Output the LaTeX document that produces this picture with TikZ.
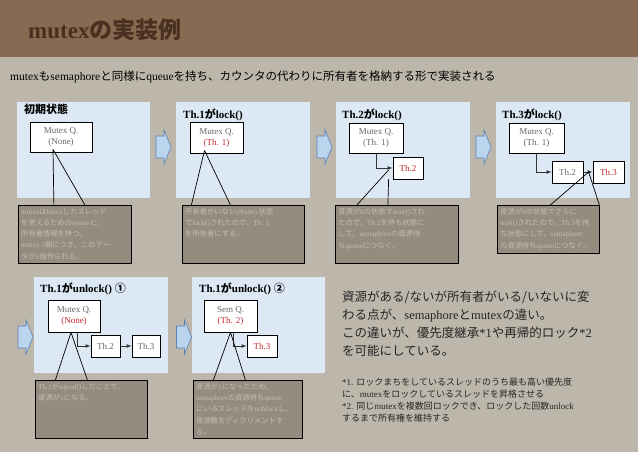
\documentclass[tikz,border=0pt]{standalone}
\usepackage{fontspec}
\setmainfont{Liberation Serif}
\newfontfamily\jp{Noto Sans CJK JP}
\usetikzlibrary{positioning}
\definecolor{bgc}{HTML}{BDB6AB}
\definecolor{hdr}{HTML}{866A52}
\definecolor{ttl}{HTML}{4A3020}
\definecolor{pnl}{HTML}{DCE9F5}
\definecolor{notef}{HTML}{958C7F}
\definecolor{notet}{HTML}{C4BDB3}
\definecolor{redt}{HTML}{C0282D}
\definecolor{arrf}{HTML}{BCD5EE}
\definecolor{arrd}{HTML}{5B82B5}
\tikzset{
 panel/.style={fill=pnl,draw=none,anchor=north west,inner sep=0},
 qbox/.style={draw=black,fill=white,line width=0.8pt,align=center,inner sep=0,font=\fontsize{9}{11}\selectfont,text=black!60},
 notebox/.style={draw=black,fill=notef,line width=0.8pt,anchor=north west,inner sep=0},
 notetxt/.style={anchor=north west,align=left,text=notet,font=\fontsize{7.3}{11.3}\selectfont,inner sep=0},
 ptitle/.style={anchor=west,font=\bfseries\fontsize{11}{12}\selectfont,inner sep=0},
 barrow/.pic={\draw[draw=arrd,fill=arrf,line width=0.6pt] (-7,-11) -- (1,-11) -- (1,-17) -- (8,0) -- (1,17) -- (1,11) -- (-7,11) -- cycle;},
 call/.style={draw=black,line width=0.7pt},
 link/.style={draw=black!80,line width=0.7pt,-latex}
}
\begin{document}
\begin{tikzpicture}[x=1pt,y=-1pt]
\fill[bgc] (0,0) rectangle (638,452);
\fill[hdr] (0,0) rectangle (638,57);
\node[anchor=west,text=ttl,font=\bfseries\fontsize{23}{26}\selectfont,inner sep=0] (title) at (28,30) {mutex{\jp\bfseries の実装例}};
\node[anchor=west,font=\fontsize{11.5}{13}\selectfont,inner sep=0] (sub) at (10,77) {mutex{\jp も}semaphore{\jp と同様に}queue{\jp を持ち、カウンタの代わりに所有者を格納する形で実装される}};
% panels row 1
\node[panel,minimum width=133pt,minimum height=96pt] (p1) at (17,102) {};
\node[panel,minimum width=134pt,minimum height=96pt] (p2) at (176,102) {};
\node[panel,minimum width=134pt,minimum height=96pt] (p3) at (336,102) {};
\node[panel,minimum width=134pt,minimum height=96pt] (p4) at (496,102) {};
\node[ptitle] (t1) at (24,109) {\jp\bfseries 初期状態};
\node[ptitle] (t2) at (183,115) {Th.1{\jp\bfseries が}lock()};
\node[ptitle] (t3) at (342,115) {Th.2{\jp\bfseries が}lock()};
\node[ptitle] (t4) at (502,115) {Th.3{\jp\bfseries が}lock()};
\pic at (163,147) {barrow};
\pic at (324,147) {barrow};
\pic at (483,147) {barrow};
% boxes
\node[qbox,minimum width=62pt,minimum height=30pt] (m1) at (61,137) {Mutex Q.\\(None)};
\node[qbox,minimum width=53pt,minimum height=31pt] (m2) at (216.5,137.5) {Mutex Q.\\\textcolor{redt}{(Th. 1)}};
\node[qbox,minimum width=54pt,minimum height=30pt] (m3) at (376,138) {Mutex Q.\\(Th. 1)};
\node[qbox,minimum width=30pt,minimum height=22pt,text=redt] (r3) at (408,168) {Th.2};
\node[qbox,minimum width=55pt,minimum height=30pt] (m4) at (536.5,138) {Mutex Q.\\(Th. 1)};
\node[qbox,minimum width=31pt,minimum height=22pt] (r4a) at (567.5,172) {Th.2};
\node[qbox,minimum width=31pt,minimum height=22pt,text=redt] (r4b) at (608.5,172) {Th.3};
\draw[link] (m3.south) |- (r3.west);
\draw[link] (m4.south) |- (r4a.west);
\draw[link] (r4a) -- (r4b);
% notes row 1
\node[notebox,minimum width=113pt,minimum height=58pt] (n1) at (18,205) {};
\node[notebox,minimum width=122pt,minimum height=58pt] (n2) at (182,205) {};
\node[notebox,minimum width=123pt,minimum height=58pt] (n3) at (335,205) {};
\node[notebox,minimum width=102pt,minimum height=48pt] (n4) at (497,205) {};
\draw[call] ([xshift=-8pt,yshift=3pt]m1.south) -- ([xshift=-21pt]n1.north) ([xshift=-8pt,yshift=3pt]m1.south) -- ([xshift=10pt]n1.north);
\draw[call] ([xshift=-12pt,yshift=3pt]m2.south) -- ([xshift=-52pt]n2.north) ([xshift=-12pt,yshift=3pt]m2.south) -- ([xshift=-13pt]n2.north);
\draw[call] ([xshift=-4pt,yshift=-2pt]r3.west) -- ([xshift=-40pt]n3.north) ([xshift=-4pt]r3.south west) -- ([xshift=-9pt]n3.north);
\draw[call] ([xshift=-4pt]r4b.west) -- ([xshift=2pt]n4.north) ([xshift=-4pt]r4b.west) -- ([xshift=51pt]n4.north);
\node[notetxt] (nt1) at (21,208) {mutex{\jp は}block{\jp したスレッド}\\{\jp を覚えるための}queue{\jp と、}\\{\jp 所有者情報を持つ。}\\mutex 1{\jp 個につき、このデー}\\{\jp タが}1{\jp 個作られる。}};
\node[notetxt] (nt2) at (185,208) {{\jp 所有者がいない}(None) {\jp 状態}\\{\jp で}lock(){\jp されたので、}Th. 1\\{\jp を所有者にする。}};
\node[notetxt] (nt3) at (338,208) {{\jp 資源が}0{\jp の状態で}wait(){\jp され}\\{\jp たので、}Th.2{\jp を待ち状態に}\\{\jp して、}semaphore{\jp の資源待}\\{\jp ち}queue{\jp につなぐ。}};
\node[notetxt] (nt4) at (500,208) {{\jp 資源が}0{\jp の状態でさらに}\\wait(){\jp されたので、}Th.3{\jp を待}\\{\jp ち状態にして、}semaphore\\{\jp の資源待ち}queue{\jp につなぐ。}};
% row 2
\pic at (25,337) {barrow};
\pic at (183.5,337) {barrow};
\node[panel,minimum width=134pt,minimum height=96pt] (p5) at (34,277) {};
\node[panel,minimum width=133pt,minimum height=96pt] (p6) at (192,277) {};
\node[ptitle] (t5) at (40,289) {Th.1{\jp\bfseries が}unlock() {\jp\bfseries ①}};
\node[ptitle] (t6) at (199,289) {Th.1{\jp\bfseries が}unlock() {\jp\bfseries ②}};
\node[qbox,minimum width=52pt,minimum height=32pt] (m5) at (74,316) {Mutex Q.\\\textcolor{redt}{(None)}};
\node[qbox,minimum width=29pt,minimum height=22pt] (r5a) at (105.5,346) {Th.2};
\node[qbox,minimum width=28pt,minimum height=22pt] (r5b) at (146,346) {Th.3};
\node[qbox,minimum width=53pt,minimum height=32pt] (m6) at (230.5,316) {Sem Q.\\\textcolor{redt}{(Th. 2)}};
\node[qbox,minimum width=30pt,minimum height=22pt,text=redt] (r6) at (262,346) {Th.3};
\draw[link] ([xshift=3pt]m5.south) |- (r5a.west);
\draw[link] (r5a) -- (r5b);
\draw[link] ([xshift=3pt]m6.south) |- (r6.west);
\node[notebox,minimum width=112pt,minimum height=58pt] (n5) at (35,380) {};
\node[notebox,minimum width=109pt,minimum height=58pt] (n6) at (193,380) {};
\draw[call] ([xshift=-3pt]m5.south) -- ([xshift=-36pt]n5.north) ([xshift=-3pt]m5.south) -- ([xshift=-4pt]n5.north);
\draw[call] (m6.south) -- ([xshift=-34.5pt]n6.north) (m6.south) -- ([xshift=-2.5pt]n6.north);
\node[notetxt] (nt5) at (38,383) {Th.1{\jp が}signal(){\jp したことで、}\\{\jp 資源が}1{\jp になる。}};
\node[notetxt] (nt6) at (196,383) {{\jp 資源が}1{\jp になったため、}\\semaphore{\jp の資源待ち}queue\\{\jp にいるスレッドを}unblock{\jp し、}\\{\jp 資源数をディクリメントす}\\{\jp る。}};
% right text
\node[anchor=north west,align=left,inner sep=0,font=\fontsize{12.5}{18}\selectfont,text=black!85] (rt) at (342,291) {{\jp 資源がある/ないが所有者がいる/いないに変}\\{\jp わる点が、}semaphore{\jp と}mutex{\jp の違い。}\\{\jp この違いが、優先度継承}*1{\jp や再帰的ロック}*2\\{\jp を可能にしている。}};
\node[anchor=north west,align=left,inner sep=0,font=\fontsize{9}{12}\selectfont,text=black!85] (fn) at (342,378) {*1. {\jp ロックまちをしているスレッドのうち最も高い優先度}\\{\jp に、}mutex{\jp をロックしているスレッドを昇格させる}\\*2. {\jp 同じ}mutex{\jp を複数回ロックでき、ロックした回数}unlock\\{\jp するまで所有権を維持する}};
\end{tikzpicture}
\end{document}
